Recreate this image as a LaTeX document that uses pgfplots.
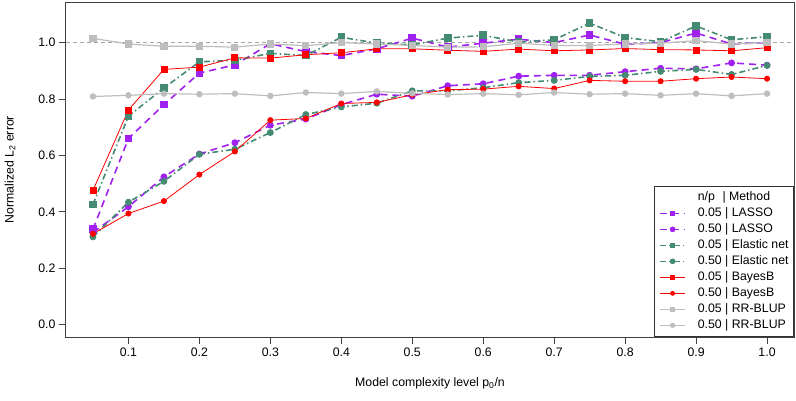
\documentclass[border=0pt]{standalone}
\usepackage{pgfplots}
\pgfplotsset{compat=1.18}
\usepackage{fontspec}
\setmainfont{Liberation Sans}
\definecolor{lassoc}{RGB}{160,32,240}
\definecolor{enetc}{RGB}{69,139,116}
\definecolor{bayesc}{RGB}{255,0,0}
\definecolor{rrc}{RGB}{190,190,190}

% x: model complexity; columns: method / n/p
\pgfplotstableread{
x     l05    l50   e05   e50   b05   b50   r05   r50
0.05 0.338 0.327 0.426 0.311 0.476 0.322 1.015 0.809
0.10 0.660 0.418 0.739 0.434 0.761 0.394 0.995 0.813
0.15 0.780 0.524 0.839 0.508 0.905 0.438 0.987 0.819
0.20 0.892 0.605 0.932 0.604 0.913 0.532 0.987 0.817
0.25 0.921 0.645 0.937 0.622 0.946 0.614 0.984 0.819
0.30 0.996 0.707 0.962 0.681 0.945 0.725 0.995 0.811
0.35 0.968 0.729 0.954 0.745 0.957 0.731 0.989 0.823
0.40 0.954 0.780 1.019 0.772 0.964 0.784 1.000 0.819
0.45 0.978 0.817 0.998 0.785 0.978 0.788 0.995 0.827
0.50 1.016 0.810 0.992 0.829 0.978 0.815 0.990 0.820
0.55 0.984 0.847 1.016 0.829 0.973 0.833 0.984 0.816
0.60 0.998 0.854 1.026 0.840 0.969 0.835 0.985 0.819
0.65 1.012 0.881 1.002 0.858 0.977 0.845 0.998 0.815
0.70 1.000 0.884 1.010 0.866 0.971 0.837 0.990 0.823
0.75 1.027 0.884 1.069 0.880 0.974 0.866 0.990 0.817
0.80 0.994 0.897 1.018 0.884 0.979 0.863 0.995 0.819
0.85 1.000 0.909 1.003 0.898 0.975 0.863 0.998 0.813
0.90 1.034 0.907 1.059 0.905 0.974 0.872 1.007 0.819
0.95 0.995 0.928 1.010 0.887 0.971 0.878 0.995 0.811
1.00 1.000 0.920 1.021 0.919 0.982 0.872 1.000 0.819
}\errtab

\begin{document}
\begin{tikzpicture}
\begin{axis}[name=ax,
    width=728pt, height=335pt, scale only axis,
    xmin=0.012, xmax=1.038, ymin=-0.044, ymax=1.144,
    xtick={0.1,0.2,0.3,0.4,0.5,0.6,0.7,0.8,0.9,1.0},
    ytick={0,0.2,0.4,0.6,0.8,1.0},
    xticklabel style={/pgf/number format/.cd, fixed, fixed zerofill, precision=1},
    yticklabel style={/pgf/number format/.cd, fixed, fixed zerofill, precision=1},
    /pgf/number format/assume math mode=true,
    tick label style={font=\fontsize{12.3}{14}\selectfont},
    tick align=outside, tick pos=left, major tick length=7pt,
    every tick/.style={black!75, line width=0.8pt},
    axis line style={black!75, line width=1pt},
    xlabel={Model complexity level p\textsubscript{0}/n},
    ylabel={Normalized L\textsubscript{2} error},
    every axis x label/.style={at={(axis description cs:0.5,0)}, anchor=center, yshift=-46pt,
      font=\fontsize{12.3}{14}\selectfont},
    every axis y label/.style={at={(axis description cs:0,0.5)}, anchor=center, xshift=-56pt, rotate=90,
      font=\fontsize{12.3}{14}\selectfont},
    legend style={at={(rel axis cs:1,0)}, anchor=south east, draw=black!80, line width=0.8pt,
      font=\fontsize{12.3}{14}\selectfont, row sep=3.5pt, inner xsep=5pt, inner ysep=5pt,
      nodes={inner sep=0pt, text height=9.5pt, text depth=3pt},
      /tikz/every odd column/.style={column sep=12pt}},
    legend cell align=left,
    legend image code/.code={\draw[mark repeat=2,mark phase=2,mark size=2pt] plot coordinates {(0pt,0pt) (12.5pt,0pt) (25pt,0pt)};},
  ]
\addplot[gray!70, dashed, line width=0.8pt, dash pattern=on 4pt off 3pt, forget plot] coordinates {(0.012,1) (1.038,1)};
\addlegendimage{empty legend}
\addlegendentry{n/p \,\,| Method}
\addplot[lassoc, line width=1.6pt, dash pattern=on 7pt off 5pt, mark=square*, mark size=3pt, mark options={solid}] table[x=x,y=l05]{\errtab};
\addlegendentry{0.05 | LASSO}
\addplot[lassoc, line width=1.6pt, dash pattern=on 7pt off 5pt, mark=*, mark size=2.6pt, mark options={solid}] table[x=x,y=l50]{\errtab};
\addlegendentry{0.50 | LASSO}
\addplot[enetc, line width=1.6pt, dash pattern=on 6pt off 3pt on 1.5pt off 3pt, mark=square*, mark size=3pt, mark options={solid}] table[x=x,y=e05]{\errtab};
\addlegendentry{0.05 | Elastic net}
\addplot[enetc, line width=1.6pt, dash pattern=on 6pt off 3pt on 1.5pt off 3pt, mark=*, mark size=2.6pt, mark options={solid}] table[x=x,y=e50]{\errtab};
\addlegendentry{0.50 | Elastic net}
\addplot[bayesc, line width=0.8pt, mark=square*, mark size=3pt] table[x=x,y=b05]{\errtab};
\addlegendentry{0.05 | BayesB}
\addplot[bayesc, line width=0.8pt, mark=*, mark size=2.6pt] table[x=x,y=b50]{\errtab};
\addlegendentry{0.50 | BayesB}
\addplot[rrc, line width=1.2pt, mark=square*, mark size=3pt] table[x=x,y=r05]{\errtab};
\addlegendentry{0.05 | RR-BLUP}
\addplot[rrc, line width=1.2pt, mark=*, mark size=2.6pt] table[x=x,y=r50]{\errtab};
\addlegendentry{0.50 | RR-BLUP}
\end{axis}
\pgfresetboundingbox
\path (ax.south west) ++(-66pt,-63pt) rectangle ++(796pt,400pt);
\end{tikzpicture}
\end{document}
